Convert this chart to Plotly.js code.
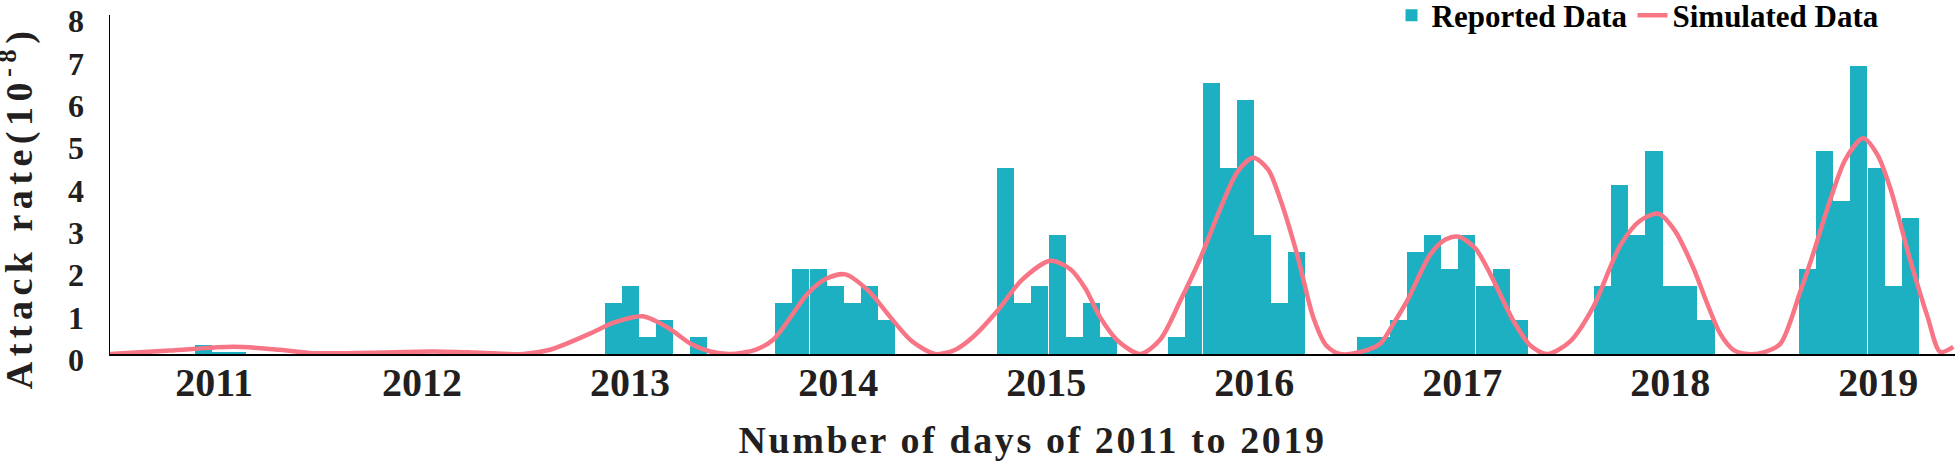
<!DOCTYPE html>
<html>
<head>
<meta charset="utf-8">
<script src="https://cdn.plot.ly/plotly-3.0.1.min.js"></script>
<style>
  html, body { margin: 0; padding: 0; background: #ffffff; }
  #chart { width: 1960px; height: 469px; }
  .xtitle { letter-spacing: 2.6px; }
  .ytitle { letter-spacing: 5.5px; }
</style>
</head>
<body>
<div id="chart"></div>
<script>
// ---- Data (x in days since 1 Jan 2011) ----
const yearLabels = ["2011", "2012", "2013", "2014", "2015", "2016", "2017", "2018", "2019"];
const yearMidDays = [182.5, 547.5, 912.5, 1277.5, 1642.5, 2007.5, 2372.5, 2737.5, 3102.5];

// Reported data (bars): centre day of each reporting period and attack rate (10^-8)
const reportedDays = [
  164, 194, 224,
  884, 913, 943, 973, 1003, 1033,
  1182, 1212, 1243, 1273, 1303, 1333, 1363,
  1571, 1601, 1631, 1662, 1692, 1722, 1752,
  1871, 1901, 1932, 1962, 1992, 2022, 2052, 2082,
  2203, 2232, 2261, 2291, 2320, 2350, 2380, 2411, 2441, 2472,
  2619, 2649, 2679, 2709, 2739, 2770, 2800,
  2979, 3008, 3038, 3068, 3099, 3130, 3159
];
const reportedRate = [
  0.22, 0.05, 0.05,
  1.2, 1.6, 0.4, 0.8, 0.0, 0.4,
  1.2, 2.0, 2.0, 1.6, 1.2, 1.6, 0.8,
  4.4, 1.2, 1.6, 2.8, 0.4, 1.2, 0.4,
  0.4, 1.6, 6.4, 4.4, 6.0, 2.8, 1.2, 2.4,
  0.4, 0.4, 0.8, 2.4, 2.8, 2.0, 2.8, 1.6, 2.0, 0.8,
  1.6, 4.0, 2.8, 4.8, 1.6, 1.6, 0.8,
  2.0, 4.8, 3.6, 6.8, 4.4, 1.6, 3.2
];

// Simulated data (curve)
const simulatedDays = [
  0, 105, 216, 298, 356, 456, 567, 649, 725,
  772, 802, 842, 886, 935, 979, 1018, 1053, 1088,
  1132, 1163, 1193, 1223, 1257, 1290, 1330, 1369, 1407, 1448,
  1483, 1514, 1557, 1600, 1650, 1685, 1711, 1737, 1769, 1808,
  1843, 1878, 1913, 1948, 1978, 2006, 2032, 2053, 2083, 2111, 2134, 2158,
  2194, 2229, 2251, 2276, 2316, 2343, 2366, 2395, 2422, 2462, 2492, 2522,
  2562, 2602, 2650, 2685, 2717, 2746, 2778, 2802, 2825, 2848, 2873,
  2904, 2931, 2966, 2989, 3013, 3045, 3076, 3101, 3124, 3159, 3189, 3211, 3234
];
const simulatedRate = [
  0.0, 0.08, 0.17, 0.1, 0.02, 0.03, 0.06, 0.03, 0.0,
  0.1, 0.25, 0.48, 0.75, 0.89, 0.62, 0.25, 0.06, 0.0,
  0.1, 0.33, 0.85, 1.41, 1.78, 1.88, 1.5, 0.87, 0.3, 0.0,
  0.1, 0.4, 1.02, 1.75, 2.2, 2.0, 1.55, 0.87, 0.3, 0.0,
  0.35, 1.26, 2.26, 3.43, 4.3, 4.63, 4.35, 3.66, 2.34, 0.87, 0.2, 0.0,
  0.05, 0.25, 0.7, 1.26, 2.34, 2.7, 2.77, 2.5, 1.88, 0.79, 0.2, 0.0,
  0.3, 1.1, 2.57, 3.15, 3.31, 2.9, 2.03, 1.2, 0.48, 0.1, 0.0,
  0.05, 0.25, 1.49, 2.4, 3.43, 4.6, 5.09, 4.7, 3.89, 2.19, 0.87, 0.05, 0.17
];

const barWidthDays = 30.2;
const txt = "#231F20";
const serif = "Liberation Serif, Times New Roman, serif";

const traces = [
  {
    type: "bar",
    name: "Reported Data",
    x: reportedDays,
    y: reportedRate,
    width: barWidthDays,
    marker: { color: "#1CB0C2", line: { width: 0 } },
    hoverinfo: "x+y"
  },
  {
    type: "scatter",
    mode: "lines",
    name: "Simulated Data",
    x: simulatedDays,
    y: simulatedRate,
    line: { color: "#F87586", width: 4.5, shape: "spline", smoothing: 0.8 },
    cliponaxis: false
  }
];

const layout = {
  width: 1960,
  height: 469,
  margin: { l: 110, r: 5, t: 10, b: 115 },
  paper_bgcolor: "#ffffff",
  plot_bgcolor: "#ffffff",
  showlegend: true,
  legend: {
    orientation: "h",
    x: 0.9618,
    xanchor: "right",
    y: 1.028,
    yanchor: "top",
    bgcolor: "rgba(0,0,0,0)",
    font: { family: serif, size: 31, color: "#000000", weight: "bold" },
    itemwidth: 30,
    tracegroupgap: 0,
    traceorder: "normal"
  },
  xaxis: {
    range: [0, 3237],
    showgrid: false,
    zeroline: false,
    showline: true,
    linecolor: "#000000",
    linewidth: 2,
    ticks: "",
    tickmode: "array",
    tickvals: yearMidDays,
    ticktext: yearLabels,
    tickfont: { family: serif, size: 40, color: txt, weight: "bold" },
    ticklabelstandoff: -8,
    title: {
      text: "Number of days of 2011 to 2019",
      font: { family: serif, size: 38, color: txt, weight: "bold" },
      standoff: 22
    },
    fixedrange: true
  },
  yaxis: {
    range: [0, 8],
    showgrid: false,
    zeroline: false,
    showline: true,
    linecolor: "#000000",
    linewidth: 1.5,
    ticks: "",
    tickmode: "linear",
    tick0: 0,
    dtick: 1,
    tickfont: { family: serif, size: 32, color: txt, weight: "bold" },
    ticklabelstandoff: 18,
    ticklabelshift: 6,
    ticklabeloverflow: "allow",
    title: {
      text: "Attack rate(10<sup>-8</sup>)",
      font: { family: serif, size: 38, color: txt, weight: "bold" },
      standoff: 27
    },
    fixedrange: true
  },
  bargap: 0
};

// small visual nudges (px) applied after rendering, so margins stay fixed
const legendNudgeY = -17;
const yTitleNudgeX = 3;
const yTitleNudgeY = 23;

Plotly.newPlot("chart", traces, layout, { displayModeBar: false, staticPlot: true }).then(function (gd) {
  const leg = gd.querySelector(".legend");
  if (leg) {
    const t = leg.getAttribute("transform") || "";
    const m = /translate\(\s*([-\d.e]+)[ ,]+([-\d.e]+)\s*\)/.exec(t);
    if (m) leg.setAttribute("transform", "translate(" + (+m[1]) + "," + (+m[2] + legendNudgeY) + ")");
  }
  const yt = gd.querySelector(".g-ytitle");
  if (yt) yt.setAttribute("transform", "translate(" + yTitleNudgeX + "," + yTitleNudgeY + ")");
});
</script>
</body>
</html>
